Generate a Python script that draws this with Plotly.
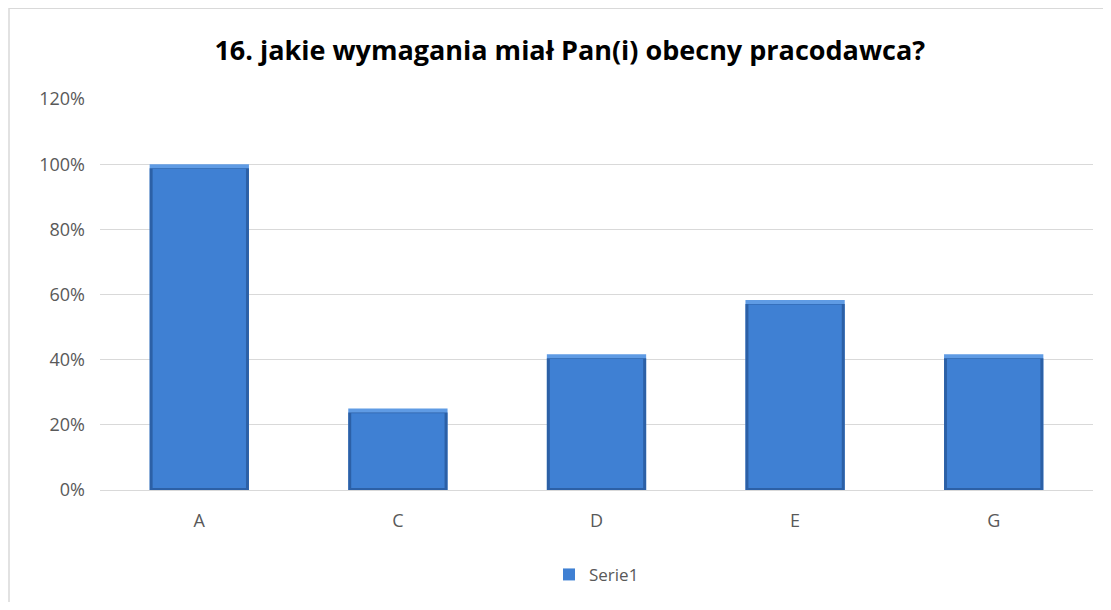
import plotly.graph_objects as go

# survey answers, share of respondents
categories = ["A", "C", "D", "E", "G"]
values = [1.0, 0.25, 0.4167, 0.5833, 0.4167]
series_name = "Serie1"
y_ticks = [0, 0.2, 0.4, 0.6, 0.8, 1.0, 1.2]
y_tick_labels = ["0%", "20%", "40%", "60%", "80%", "100%", "120%"]

fig = go.Figure()
# bevel look: light top edge, dark sides, face on top
fig.add_trace(go.Bar(
    x=categories, y=values, width=0.5,
    marker=dict(color="#5f9be4", line=dict(width=0)),
    showlegend=False, hoverinfo="skip",
))
fig.add_trace(go.Bar(
    x=categories, y=[v - 0.012 for v in values], width=0.5,
    marker=dict(color="#2c60a6", line=dict(width=0)),
    showlegend=False, hoverinfo="skip",
))
fig.add_trace(go.Bar(
    x=categories, y=[v - 0.02 for v in values], base=0.006, width=0.47,
    name=series_name,
    marker=dict(color="#3f80d3", line=dict(width=0)),
    showlegend=True,
))

fig.update_layout(
    width=1095,
    height=594,
    paper_bgcolor="white",
    plot_bgcolor="white",
    barmode="overlay",
    font=dict(family="Open Sans, Lato, sans-serif", color="#595959", size=18),
    title=dict(
        text="<b>16. jakie wymagania miał Pan(i) obecny pracodawca?</b>",
        x=0.513, xanchor="center", y=0.929, yanchor="middle",
        font=dict(family="Open Sans, Lato, sans-serif", size=27, color="black"),
    ),
    margin=dict(l=92, r=10, t=91, b=111),
    legend=dict(
        orientation="h", x=0.5, xanchor="center", y=-0.214, yanchor="middle",
        font=dict(size=17, color="#595959"),
    ),
    yaxis=dict(
        range=[0, 1.2005], tickvals=y_ticks, ticktext=y_tick_labels,
        showgrid=True, gridcolor="#d9d9d9", gridwidth=1,
        zeroline=False, showline=False, ticks="", ticklabelstandoff=14,
    ),
    xaxis=dict(
        showline=True, linecolor="#d9d9d9", linewidth=1,
        ticks="", ticklabelstandoff=14,
    ),
    shapes=[dict(
        type="rect", xref="paper", yref="paper",
        x0=-91 / 993, x1=1004 / 993,
        y0=-130 / 392, y1=483 / 392,
        line=dict(color="#d9d9d9", width=1.5), fillcolor="rgba(0,0,0,0)",
        layer="below",
    )],
)

fig.write_html("out.html")
